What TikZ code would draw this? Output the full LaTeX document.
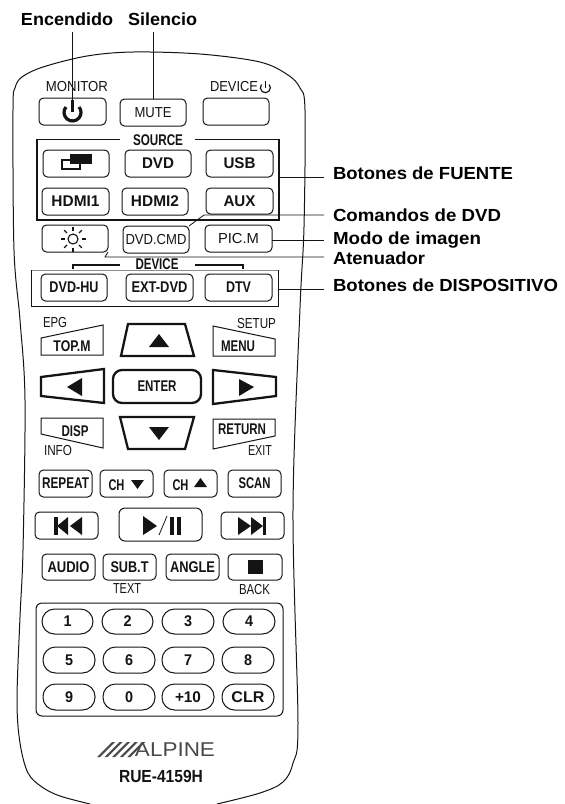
\documentclass[tikz,border=0pt]{standalone}
\usepackage{graphicx}
\usepackage{fontspec}
\setmainfont{Liberation Sans}
\definecolor{ink}{HTML}{141414}
\definecolor{logo}{HTML}{4A4A4A}
\newcommand\tb[2]{{\fontsize{15.5}{16}\selectfont\bfseries\resizebox{#1pt}{\height}{#2}}}
\newcommand\tn[2]{{\fontsize{14.5}{15}\selectfont\resizebox{#1pt}{\height}{#2}}}
\newcommand\tl[2]{{\fontsize{17.5}{18}\selectfont\bfseries\resizebox{#1pt}{\height}{#2}}}
\tikzset{
  btn/.style={draw=ink,line width=1pt,rounded corners=4.5pt,inner sep=0pt,outer sep=0pt,text=ink},
  oval/.style={draw=ink,line width=1pt,rounded corners=12.5pt,inner sep=0pt,outer sep=0pt,text=ink},
  txt/.style={inner sep=0pt,outer sep=0pt,text=ink},
  lblr/.style={inner sep=0pt,outer sep=9pt,anchor=west,text=black},
  lblt/.style={inner sep=0pt,outer sep=6.5pt,text=black},
  wire/.style={draw=ink,line width=.8pt},
  pad/.style={draw=ink,line width=1pt},
  fat/.style={draw=ink,line width=2.3pt,line join=miter},
  sym/.style={fill=ink,draw=none},
}
\newcommand\btn[7][btn]{\node[#1,minimum width={(#5-#3)*1pt},minimum height={(#6-#4)*1pt}] (#2) at ({(#3+#5)/2},{(#4+#6)/2}) {#7};}
\begin{document}
\begin{tikzpicture}[x=1pt,y=-1pt]
\useasboundingbox (0,0) rectangle (565,804);
\fill[white] (0,0) rectangle (565,804);
% body
\draw[draw=ink,line width=1pt] plot[smooth,tension=.55] coordinates {(90,804) (60,796) (42,787) (28,773) (20,743) (17,700) (20,617) (23,550) (25,400) (20,320) (14,250) (13,110) (15,88) (22,77) (43,67) (87,56) (133,52) (200,54) (260,62) (288,75) (300,88) (305,110) (304,227) (300,308) (293,510) (298,723) (293,763) (283,782) (260,793) (217,804)};
% top row
\btn{power}{39}{98}{106}{125}{}
\btn{mute}{120}{99}{186}{126}{\tn{37}{MUTE}}
\btn{devb}{203}{98}{269}{125}{}
\node[txt] (monitor) at (77,87) {\tn{62}{MONITOR}};
\node[txt] (device) at (234,87) {\tn{48}{DEVICE}};
\draw[draw=ink,line width=1.2pt] (261.5,84.5) arc[start angle=220,end angle=-40,radius=5];
\draw[draw=ink,line width=1.2pt] (265.4,81) -- (265.4,88);
\draw[draw=ink,line width=3.2pt] (66,107) arc[start angle=220,end angle=-40,radius=8.5];
\draw[draw=ink,line width=3.2pt] (72.5,100) -- (72.5,112);
% source frame
\node[inner sep=0pt,outer sep=0pt,minimum width=242pt,minimum height=81pt] (srcframe) at (158,179.5) {};
\draw[draw=ink,line width=1.5pt] (120,139.5) -- (37,139.5) -- (37,220) -- (279,220) -- (279,139.5) -- (195,139.5);
\node[txt] (source) at (158,140) {\tb{50}{SOURCE}};
\btn{win}{43}{150}{109}{177}{}
\btn{dvd}{125}{150}{191}{177}{\tb{32}{DVD}}
\btn{usb}{206}{150}{273}{177}{\tb{32}{USB}}
\btn{hdmia}{42}{188}{109}{215}{\tb{48}{HDMI1}}
\btn{hdmib}{122}{188}{188}{215}{\tb{48}{HDMI2}}
\btn{aux}{206}{188}{273}{214}{\tb{32}{AUX}}
\draw[draw=ink,line width=1.1pt] (62,160) rectangle (80,169);
\fill[ink] (70,154) rectangle (92,164);
% third row
\btn{dim}{42}{225}{108}{252}{}
\btn{dvdcmd}{123}{226}{189}{253}{\tn{61}{DVD.CMD}}
\btn{picm}{205}{225}{272}{252}{\tn{41}{PIC.M}}
\draw[draw=ink,line width=1.1pt] (73,239) circle[radius=5];
\foreach \a in {0,45,...,315}{\draw[draw=ink,line width=1.2pt] (73,239) ++(\a:8.5) -- ++(\a:4);}
% device frame
\node[inner sep=0pt,outer sep=0pt,minimum width=247pt,minimum height=36pt] (devframe) at (154.5,288) {};
\draw[draw=black!45,line width=.7pt] (31,270) -- (279,270);
\draw[draw=ink,line width=.8pt] (31,270) -- (31,306) -- (278,306) -- (278,270);
\draw[draw=ink,line width=1.3pt] (120,265) -- (73,265) -- (73,269);
\draw[draw=ink,line width=1.3pt] (195,265) -- (243,265) -- (243,269);
\node[txt] (devlbl) at (157,264.5) {\tb{43}{DEVICE}};
\btn{dvdhu}{41}{274}{107}{301}{\tb{49}{DVD-HU}}
\btn{extdvd}{126}{274}{193}{301}{\tb{56}{EXT-DVD}}
\btn{dtv}{205}{274}{272}{301}{\tb{25}{DTV}}
% navigation
\node[txt] (epg) at (55,323) {\tn{24}{EPG}};
\node[txt] (setup) at (256.5,324) {\tn{39}{SETUP}};
\draw[pad] (41,338) -- (103,325) -- (103,355) -- (41,355) -- cycle;
\node[txt] (topm) at (72,346) {\tb{37}{TOP.M}};
\draw[pad] (213,326) -- (275,339) -- (275,356) -- (213,356) -- cycle;
\node[txt] (menu) at (238,346) {\tb{34}{MENU}};
\draw[fat] (128,324) -- (185,324) -- (194,356) -- (121,356) -- cycle;
\fill[sym] (149,347) -- (169,347) -- (159,334) -- cycle;
\draw[fat] (41,377) -- (104,369) -- (104,403) -- (41,396) -- cycle;
\fill[sym] (82,378) -- (82,396) -- (67,387) -- cycle;
\draw[fat] (213,370) -- (276,377) -- (276,396) -- (213,404) -- cycle;
\fill[sym] (239,379) -- (239,396) -- (254,387) -- cycle;
\node[draw=ink,line width=2.3pt,rounded corners=9pt,inner sep=0pt,outer sep=0pt,minimum width=88pt,minimum height=33pt,text=ink] (enter) at (157,386.5) {\tb{39}{ENTER}};
\draw[pad] (41,418) -- (103,418) -- (103,448) -- (41,434) -- cycle;
\node[txt] (disp) at (75,431) {\tb{27}{DISP}};
\draw[pad] (213,419) -- (275,419) -- (275,436) -- (213,449) -- cycle;
\node[txt] (return) at (242,429) {\tb{48}{RETURN}};
\draw[fat] (120,417) -- (194,417) -- (185,449) -- (128,449) -- cycle;
\fill[sym] (149,427) -- (169,427) -- (159,440) -- cycle;
\node[txt] (info) at (58,450) {\tn{28}{INFO}};
\node[txt] (exit) at (260,451) {\tn{24}{EXIT}};
% ch row
\btn{repeat}{39}{470}{92}{497}{\tb{47}{REPEAT}}
\btn{chd}{100}{470}{153}{497}{}
\btn{chu}{164}{470}{217}{497}{}
\btn{scan}{228}{470}{281}{497}{\tb{32}{SCAN}}
\node[txt] (chdt) at (116.5,485) {\tb{16}{CH}};
\fill[sym] (131,480) -- (144,480) -- (137.5,489) -- cycle;
\node[txt] (chut) at (180.5,485) {\tb{16}{CH}};
\fill[sym] (194,487) -- (207,487) -- (200.5,478) -- cycle;
% transport
\btn{prev}{35}{512}{98}{539}{}
\btn[btn,rounded corners=6pt]{play}{119}{508}{202}{541}{}
\btn{next}{221}{512}{284}{539}{}
\fill[sym] (54,517) rectangle (58,535);
\fill[sym] (68,517) -- (68,535) -- (57,526) -- cycle;
\fill[sym] (82,517) -- (82,535) -- (70,526) -- cycle;
\fill[sym] (238,517) -- (238,535) -- (251,526) -- cycle;
\fill[sym] (251,517) -- (251,535) -- (263,526) -- cycle;
\fill[sym] (263,517) rectangle (266,535);
\fill[sym] (143,516) -- (143,535) -- (157,526) -- cycle;
\draw[draw=ink,line width=.8pt] (159,535) -- (167,516);
\fill[sym] (170,516.5) rectangle (173.5,535);
\fill[sym] (177,516.5) rectangle (180.5,535);
% audio row
\btn{audio}{42}{554}{95}{580}{\tb{42}{AUDIO}}
\btn{subt}{103}{554}{156}{580}{\tb{38}{SUB.T}}
\btn{angle}{166}{554}{219}{580}{\tb{45}{ANGLE}}
\btn{stop}{228}{554}{282}{580}{}
\fill[sym] (248,560) rectangle (263,574);
\node[txt] (text) at (127,589) {\tn{28}{TEXT}};
\node[txt] (back) at (254.5,589) {\tn{31}{BACK}};
% keypad
\node[draw=ink,line width=1pt,rounded corners=6pt,inner sep=0pt,outer sep=0pt,minimum width=247pt,minimum height=113pt] (keypad) at (159.5,659.5) {};
\btn[oval]{ka}{42}{609}{93}{634}{\tb{8}{1}}
\btn[oval]{kb}{102}{609}{153}{634}{\tb{8}{2}}
\btn[oval]{kc}{162}{609}{214}{634}{\tb{8}{3}}
\btn[oval]{kd}{223}{609}{275}{634}{\tb{8}{4}}
\btn[oval]{ke}{43}{647}{95}{673}{\tb{8}{5}}
\btn[oval]{kf}{103}{647}{155}{673}{\tb{8}{6}}
\btn[oval]{kg}{162}{647}{214}{673}{\tb{8}{7}}
\btn[oval]{kh}{222}{647}{274}{673}{\tb{8}{8}}
\btn[oval]{ki}{43}{684}{95}{710}{\tb{8}{9}}
\btn[oval]{kj}{103}{684}{155}{710}{\tb{8}{0}}
\btn[oval]{kk}{162}{684}{214}{710}{\tb{26}{+10}}
\btn[oval]{kl}{222}{684}{274}{710}{\tb{33}{CLR}}
% logo
\foreach \x in {0,1,2,3,4}{\fill[logo] ({97+7.6*\x},757) -- ({112+7.6*\x},742) -- ({115+7.6*\x},742) -- ({100+7.6*\x},757) -- cycle;}
\node[inner sep=0pt,outer sep=0pt,text=logo] (alpine) at (175,749.5) {\fontsize{20}{20}\selectfont\resizebox{80pt}{\height}{ALPINE}};
\node[inner sep=0pt,outer sep=0pt,text=ink] (model) at (161,776) {\tl{84}{RUE-4159H}};
% labels
\node[lblt] (lon) at (67,19) {\tl{92}{Encendido}};
\node[lblt] (lsi) at (162.5,19) {\tl{69}{Silencio}};
\node[lblr] (lf) at (324,173) {\tl{180}{Botones de FUENTE}};
\node[lblr] (lc) at (324,215) {\tl{168}{Comandos de DVD}};
\node[lblr] (lm) at (324,240) {\tl{148}{Modo de imagen}};
\node[lblr] (la) at (324,258) {\tl{92}{Atenuador}};
\node[lblr] (ld) at (324,285) {\tl{225}{Botones de DISPOSITIVO}};
% connectors
\coordinate (pwx) at (72.5,104);
\draw[wire] (lon.south -| pwx) -- (pwx);
\draw[wire] (lsi.south -| mute.north) -- (mute.north);
\path ([yshift=-4pt]lf.west) coordinate (cf);
\draw[wire] (cf) -- (srcframe.east |- cf);
\draw[wire] (lc.west) -- (204,215) -- (dvdcmd.north east);
\draw[wire] (lm.west) -- (picm.east |- lm.west);
\draw[wire] (la.west |- 0,257) -- (105,257) -- (dim.south east);
\path ([yshift=-4pt]ld.west) coordinate (cd);
\draw[wire] (cd) -- (devframe.east |- cd);
\end{tikzpicture}
\end{document}
